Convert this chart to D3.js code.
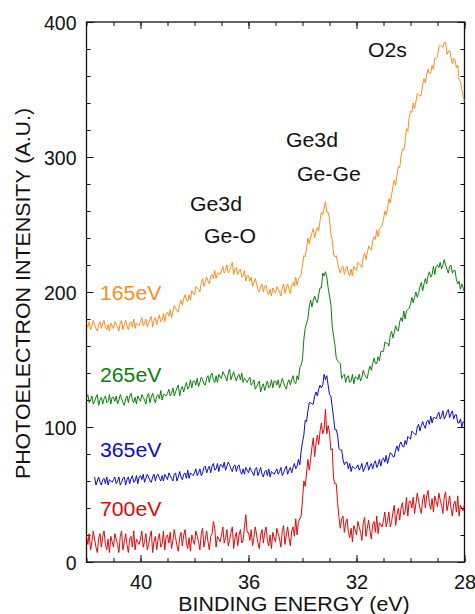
<!DOCTYPE html>
<html>
<head>
<meta charset="utf-8">
<script src="https://cdn.jsdelivr.net/npm/d3@7"></script>
<style>
  body { margin: 0; background: #fff; }
  svg text { font-family: "Liberation Sans", Arial, sans-serif; fill: #111; }
</style>
</head>
<body>
<div id="chart"></div>
<script>
// sampling grid: 42.00 eV down to 28.00 eV in 0.05 eV steps (281 points)
var energy = d3.range(0, 281).map(function(i) { return +(42 - i * 0.05).toFixed(2); });

// one row per eV (20 samples)
var ev165 = [
  177,174,178,172,175,179,176,173,171,176,178,173,177,179,174,172,176,171,177,175,
  173,178,176,174,171,177,179,172,176,179,175,172,177,178,174,180,173,177,176,175,
  178,181,175,177,180,174,177,180,182,174,179,181,176,180,183,178,179,184,178,184,
  185,182,187,181,185,190,188,186,185,191,194,190,195,198,194,193,198,194,201,199,
  198,204,203,202,200,207,210,204,208,211,208,206,212,213,210,216,210,214,214,213,
  216,219,214,216,220,214,216,219,222,213,217,218,213,216,217,211,212,216,208,212,
  212,208,211,204,207,210,206,202,200,204,206,200,204,205,200,198,202,197,203,201,
  199,204,202,200,197,203,206,199,203,206,202,199,205,207,204,211,205,210,211,213,
  220,227,226,232,240,236,240,244,247,240,245,248,245,253,259,257,262,267,259,259,
  254,243,239,228,226,227,222,217,214,218,219,213,217,219,214,212,217,212,219,217,
  216,222,221,220,218,226,229,224,229,234,232,231,238,241,239,246,241,247,248,249,
  254,260,257,262,269,266,272,278,283,279,287,293,292,300,306,305,311,321,319,329,
  334,333,340,336,341,347,346,345,346,354,358,355,361,365,362,362,368,365,373,373,
  374,382,383,382,381,385,385,376,378,379,374,369,373,372,366,368,357,356,350,345,
  341
];

var ev265 = [
  122,124,118,120,123,117,119,122,124,116,120,122,117,121,123,118,119,124,117,122,
  122,119,123,117,120,124,121,118,116,121,123,118,123,125,120,118,122,117,123,121,
  119,124,122,120,117,123,125,118,122,125,121,118,123,124,121,127,120,124,124,123,
  125,128,123,125,129,123,126,129,131,123,128,130,126,130,133,128,130,135,129,134,
  134,131,136,130,133,137,135,132,131,136,138,133,138,140,135,133,138,133,139,137,
  136,141,139,137,134,140,143,135,138,141,137,134,138,139,135,140,133,136,135,133,
  135,137,131,132,135,128,130,132,134,126,130,132,127,131,134,129,130,135,129,134,
  134,131,135,129,132,136,133,130,128,133,135,131,135,138,133,132,138,135,144,146,
  150,165,173,177,180,189,194,189,194,197,194,192,198,203,203,214,212,215,211,203,
  197,191,175,167,161,151,149,148,147,136,138,139,133,137,138,133,134,139,132,137,
  137,135,139,134,137,142,139,137,136,142,145,142,147,151,147,147,152,149,156,156,
  156,163,162,162,160,168,171,166,170,175,172,171,178,181,178,186,180,186,187,188,
  191,196,192,196,200,196,199,204,207,201,206,210,206,212,215,211,213,219,213,219,
  220,218,222,217,220,224,220,217,214,219,220,214,216,216,209,206,208,202,206,203,
  200
];

var ev365 = [
  null,null,null,null,null,null,63,57,60,63,59,57,61,62,58,63,57,61,60,59,
  61,63,58,60,63,57,59,62,63,57,61,63,58,62,64,59,60,64,58,63,
  64,61,65,59,62,65,63,60,59,63,65,60,64,65,62,60,64,60,65,63,
  61,66,64,62,60,65,66,60,63,67,63,61,65,66,62,68,62,66,65,64,
  66,69,64,66,69,64,66,70,71,66,69,71,66,71,73,68,69,73,67,72,
  72,70,74,68,71,74,72,69,67,71,72,67,71,72,67,65,69,65,70,68,
  66,70,68,66,64,69,70,64,67,70,65,63,67,68,64,69,63,67,66,65,
  67,69,65,67,70,64,66,69,71,65,68,70,66,70,73,69,71,76,72,82,
  89,94,105,104,112,118,118,117,117,123,126,123,128,131,129,131,139,135,138,131,
  124,123,115,107,98,98,94,84,83,83,76,72,74,74,69,73,67,71,70,69,
  70,72,68,70,73,67,69,72,74,68,71,73,69,73,75,70,72,76,71,76,
  77,74,79,73,77,81,80,78,78,83,86,82,87,89,86,85,90,87,93,92,
  91,97,96,95,94,100,102,97,101,104,101,99,104,105,102,108,103,107,107,106,
  109,111,106,108,112,106,108,111,113,107,110,112,106,109,109,103,103,106,100,104,
  103
];

var ev700 = [
  19,13,21,9,15,23,17,11,7,17,21,11,19,23,13,9,17,7,19,15,
  11,21,17,13,7,19,23,9,15,21,13,7,17,19,11,23,9,17,15,13,
  17,23,11,15,21,9,13,19,23,7,15,19,9,17,21,11,13,23,9,19,
  20,14,22,10,16,24,18,12,8,18,22,12,20,24,14,10,18,8,20,16,
  13,23,19,15,9,21,25,11,17,23,15,9,19,21,30,25,11,19,17,15,
  20,26,14,18,24,12,16,22,26,10,18,22,12,20,24,14,16,26,35,22,
  22,16,24,12,18,26,20,14,10,20,24,14,22,26,16,12,20,10,22,18,
  15,25,21,17,11,23,27,13,20,26,18,12,23,26,19,32,20,30,32,34,
  46,60,56,66,76,68,76,85,92,78,88,94,87,97,103,95,98,113,95,101,
  96,83,84,62,58,58,44,33,25,32,34,22,29,32,22,18,25,15,27,24,
  20,30,26,22,16,29,33,19,25,31,23,17,28,30,22,34,21,29,28,26,
  31,37,26,31,37,26,30,37,42,27,35,40,31,40,44,35,37,48,34,45,
  45,40,48,36,43,51,45,40,36,46,50,40,49,53,43,39,47,37,49,45,
  41,51,46,42,36,48,52,38,43,49,40,34,43,45,37,49,34,42,40,38,
  43
];

var seriesNames = ["165eV", "265eV", "365eV", "700eV"];
var seriesValues = [ev165, ev265, ev365, ev700];
var seriesColors = ["#ff8c1e", "#0a800a", "#0a0ad2", "#e00808"];

var xMajor = [40, 36, 32, 28];
var yMajor = [0, 100, 200, 300, 400];

var annotations = ["O2s", "Ge3d", "Ge-Ge", "Ge3d", "Ge-O"];

var margin = {top: 22, right: 10.5, bottom: 52, left: 86.5},
  width = 475 - margin.left - margin.right,
  height = 614 - margin.top - margin.bottom;

var svg = d3.select("#chart").append("svg")
  .attr("width", 475)
  .attr("height", 614)
  .append("g")
  .attr("transform", "translate(" + margin.left + "," + margin.top + ")");

var xx = d3.scaleLinear().domain([42, 28]).range([0, width]);
var yy = d3.scaleLinear().domain([0, 400]).range([height, 0]);

svg.append("clipPath").attr("id", "plotclip")
  .append("rect").attr("width", width).attr("height", height);

// ticks all point inward; minor every 1 eV / 20 units
function tickAxis(axisFn, scale, values, size, labels, pad) {
  return axisFn(scale).tickValues(values).tickSizeInner(-size).tickSizeOuter(0)
    .tickPadding(pad || 0).tickFormat(labels ? d3.format("d") : "");
}
var xMinor = d3.range(42, 27.5, -1);
var yMinor = d3.range(0, 401, 20);

function addAxis(fn, scale, values, size, labels, pad, tr) {
  var g = svg.append("g").attr("transform", tr || null)
    .call(tickAxis(fn, scale, values, size, labels, pad));
  g.select(".domain").remove();
  g.selectAll("line").attr("stroke", "#111").attr("stroke-width", 1);
  return g;
}
addAxis(d3.axisBottom, xx, xMinor, 4, false, 0, "translate(0," + height + ")");
addAxis(d3.axisTop, xx, xMinor, 4, false, 0);
addAxis(d3.axisLeft, yy, yMinor, 4, false, 0);
addAxis(d3.axisRight, yy, yMinor, 4, false, 0, "translate(" + width + ",0)");
addAxis(d3.axisTop, xx, xMajor, 7, false, 0);
addAxis(d3.axisRight, yy, yMajor, 7, false, 0, "translate(" + width + ",0)");

var xAxis = addAxis(d3.axisBottom, xx, xMajor, 7, true, 13, "translate(0," + height + ")");
xAxis.selectAll("text").style("font-size", "20px").attr("fill", "#111");
var yAxis = addAxis(d3.axisLeft, yy, yMajor, 7, true, 10);
yAxis.selectAll("text").style("font-size", "19.5px").attr("fill", "#111").attr("dy", "0.38em");

// frame
svg.append("rect")
  .attr("width", width).attr("height", height)
  .attr("fill", "none").attr("stroke", "#111").attr("stroke-width", 1.3);

var line = d3.line()
  .defined(function(d) { return d != null; })
  .x(function(d, i) { return xx(energy[i]); })
  .y(function(d) { return yy(d); });

seriesValues.forEach(function(vals, k) {
  svg.append("path")
    .datum(vals)
    .attr("clip-path", "url(#plotclip)")
    .attr("fill", "none")
    .attr("stroke", seriesColors[k])
    .attr("stroke-width", 1)
    .attr("stroke-linejoin", "round")
    .attr("d", line);
});

function label(txt, x, y, color, size) {
  svg.append("text")
    .attr("transform", "translate(" + (x - margin.left) + "," + (y - margin.top) + ") scale(1.09,1)")
    .style("font-size", (size || 19.5) + "px")
    .style("fill", color || "#111")
    .text(txt);
}

// photon energy labels
var labelY = [300, 381.5, 456.5, 516];
seriesNames.forEach(function(n, k) { label(n, 100, labelY[k], seriesColors[k]); });

// peak annotations
var annX = [368, 286, 297, 190, 204], annY = [57, 146.5, 180.5, 210.5, 243];
annotations.forEach(function(t, k) { label(t, annX[k], annY[k]); });

// axis titles
svg.append("text")
  .attr("transform", "translate(" + (294 - margin.left) + "," + (611 - margin.top) + ") scale(1.07,1)")
  .attr("text-anchor", "middle")
  .style("font-size", "20px")
  .text("BINDING ENERGY (eV)");
svg.append("text")
  .attr("transform", "translate(" + (30 - margin.left) + "," + (293.5 - margin.top) + ") rotate(-90) scale(1.07,1)")
  .attr("text-anchor", "middle")
  .style("font-size", "20px")
  .text("PHOTOELECTRON INTENSITY (A.U.)");
</script>
</body>
</html>
